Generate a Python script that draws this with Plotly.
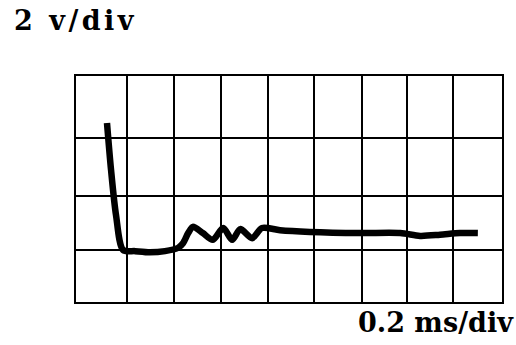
import plotly.graph_objects as go

# Oscilloscope trace: time in ms, voltage in V
time_ms = [0.131, 0.148, 0.169, 0.199, 0.250, 0.312, 0.376,
           0.432, 0.452, 0.474, 0.494, 0.536, 0.578, 0.622, 0.660, 0.694, 0.744,
           0.786, 0.862, 0.988, 1.200, 1.370, 1.454, 1.538, 1.622, 1.698]
volts = [6.34, 4.68, 3.08, 1.84, 1.80, 1.76, 1.80,
         1.92, 2.08, 2.44, 2.66, 2.44, 2.20, 2.62, 2.20, 2.58, 2.26,
         2.62, 2.54, 2.48, 2.44, 2.44, 2.34, 2.38, 2.44, 2.44]

# Graticule line positions (hand-ruled screen overlay)
grid_x_ms = [0.216, 0.414, 0.612, 0.812, 1.006, 1.208, 1.398, 1.594]
grid_y_v = [1.84, 3.76, 5.80]

x_range = [0, 1.8]   # 9 divisions x 0.2 ms
y_range = [0, 8]     # 4 divisions x 2 V

fig = go.Figure()
fig.add_trace(go.Scatter(
    x=time_ms, y=volts, mode="lines",
    line=dict(color="black", width=6.5, shape="spline", smoothing=0.8),
    hoverinfo="skip", showlegend=False,
))

axis_common = dict(
    showticklabels=False, ticks="", zeroline=False,
    showgrid=True, gridcolor="black", gridwidth=2,
    showline=True, linecolor="black", linewidth=2.2, mirror=True,
)
fig.update_xaxes(range=x_range, tickmode="array", tickvals=grid_x_ms, **axis_common)
fig.update_yaxes(range=y_range, tickmode="array", tickvals=grid_y_v, **axis_common)

serif = "DejaVu Serif"
fig.add_annotation(
    text="<span style='letter-spacing:3.5px'>2 v/div</span>",
    xref="paper", yref="paper", x=-0.150, y=1.245,
    xanchor="left", yanchor="middle", showarrow=False,
    font=dict(family=serif, size=27, color="black", weight="bold"),
)
fig.add_annotation(
    text="0.2 ms/div",
    xref="paper", yref="paper", x=1.034, y=-0.092,
    xanchor="right", yanchor="middle", showarrow=False,
    font=dict(family=serif, size=27, color="black", weight="bold"),
)

fig.update_layout(
    width=516, height=345,
    margin=dict(l=76, r=14, t=76, b=43),
    paper_bgcolor="white", plot_bgcolor="white",
)

fig.write_html("out.html")
